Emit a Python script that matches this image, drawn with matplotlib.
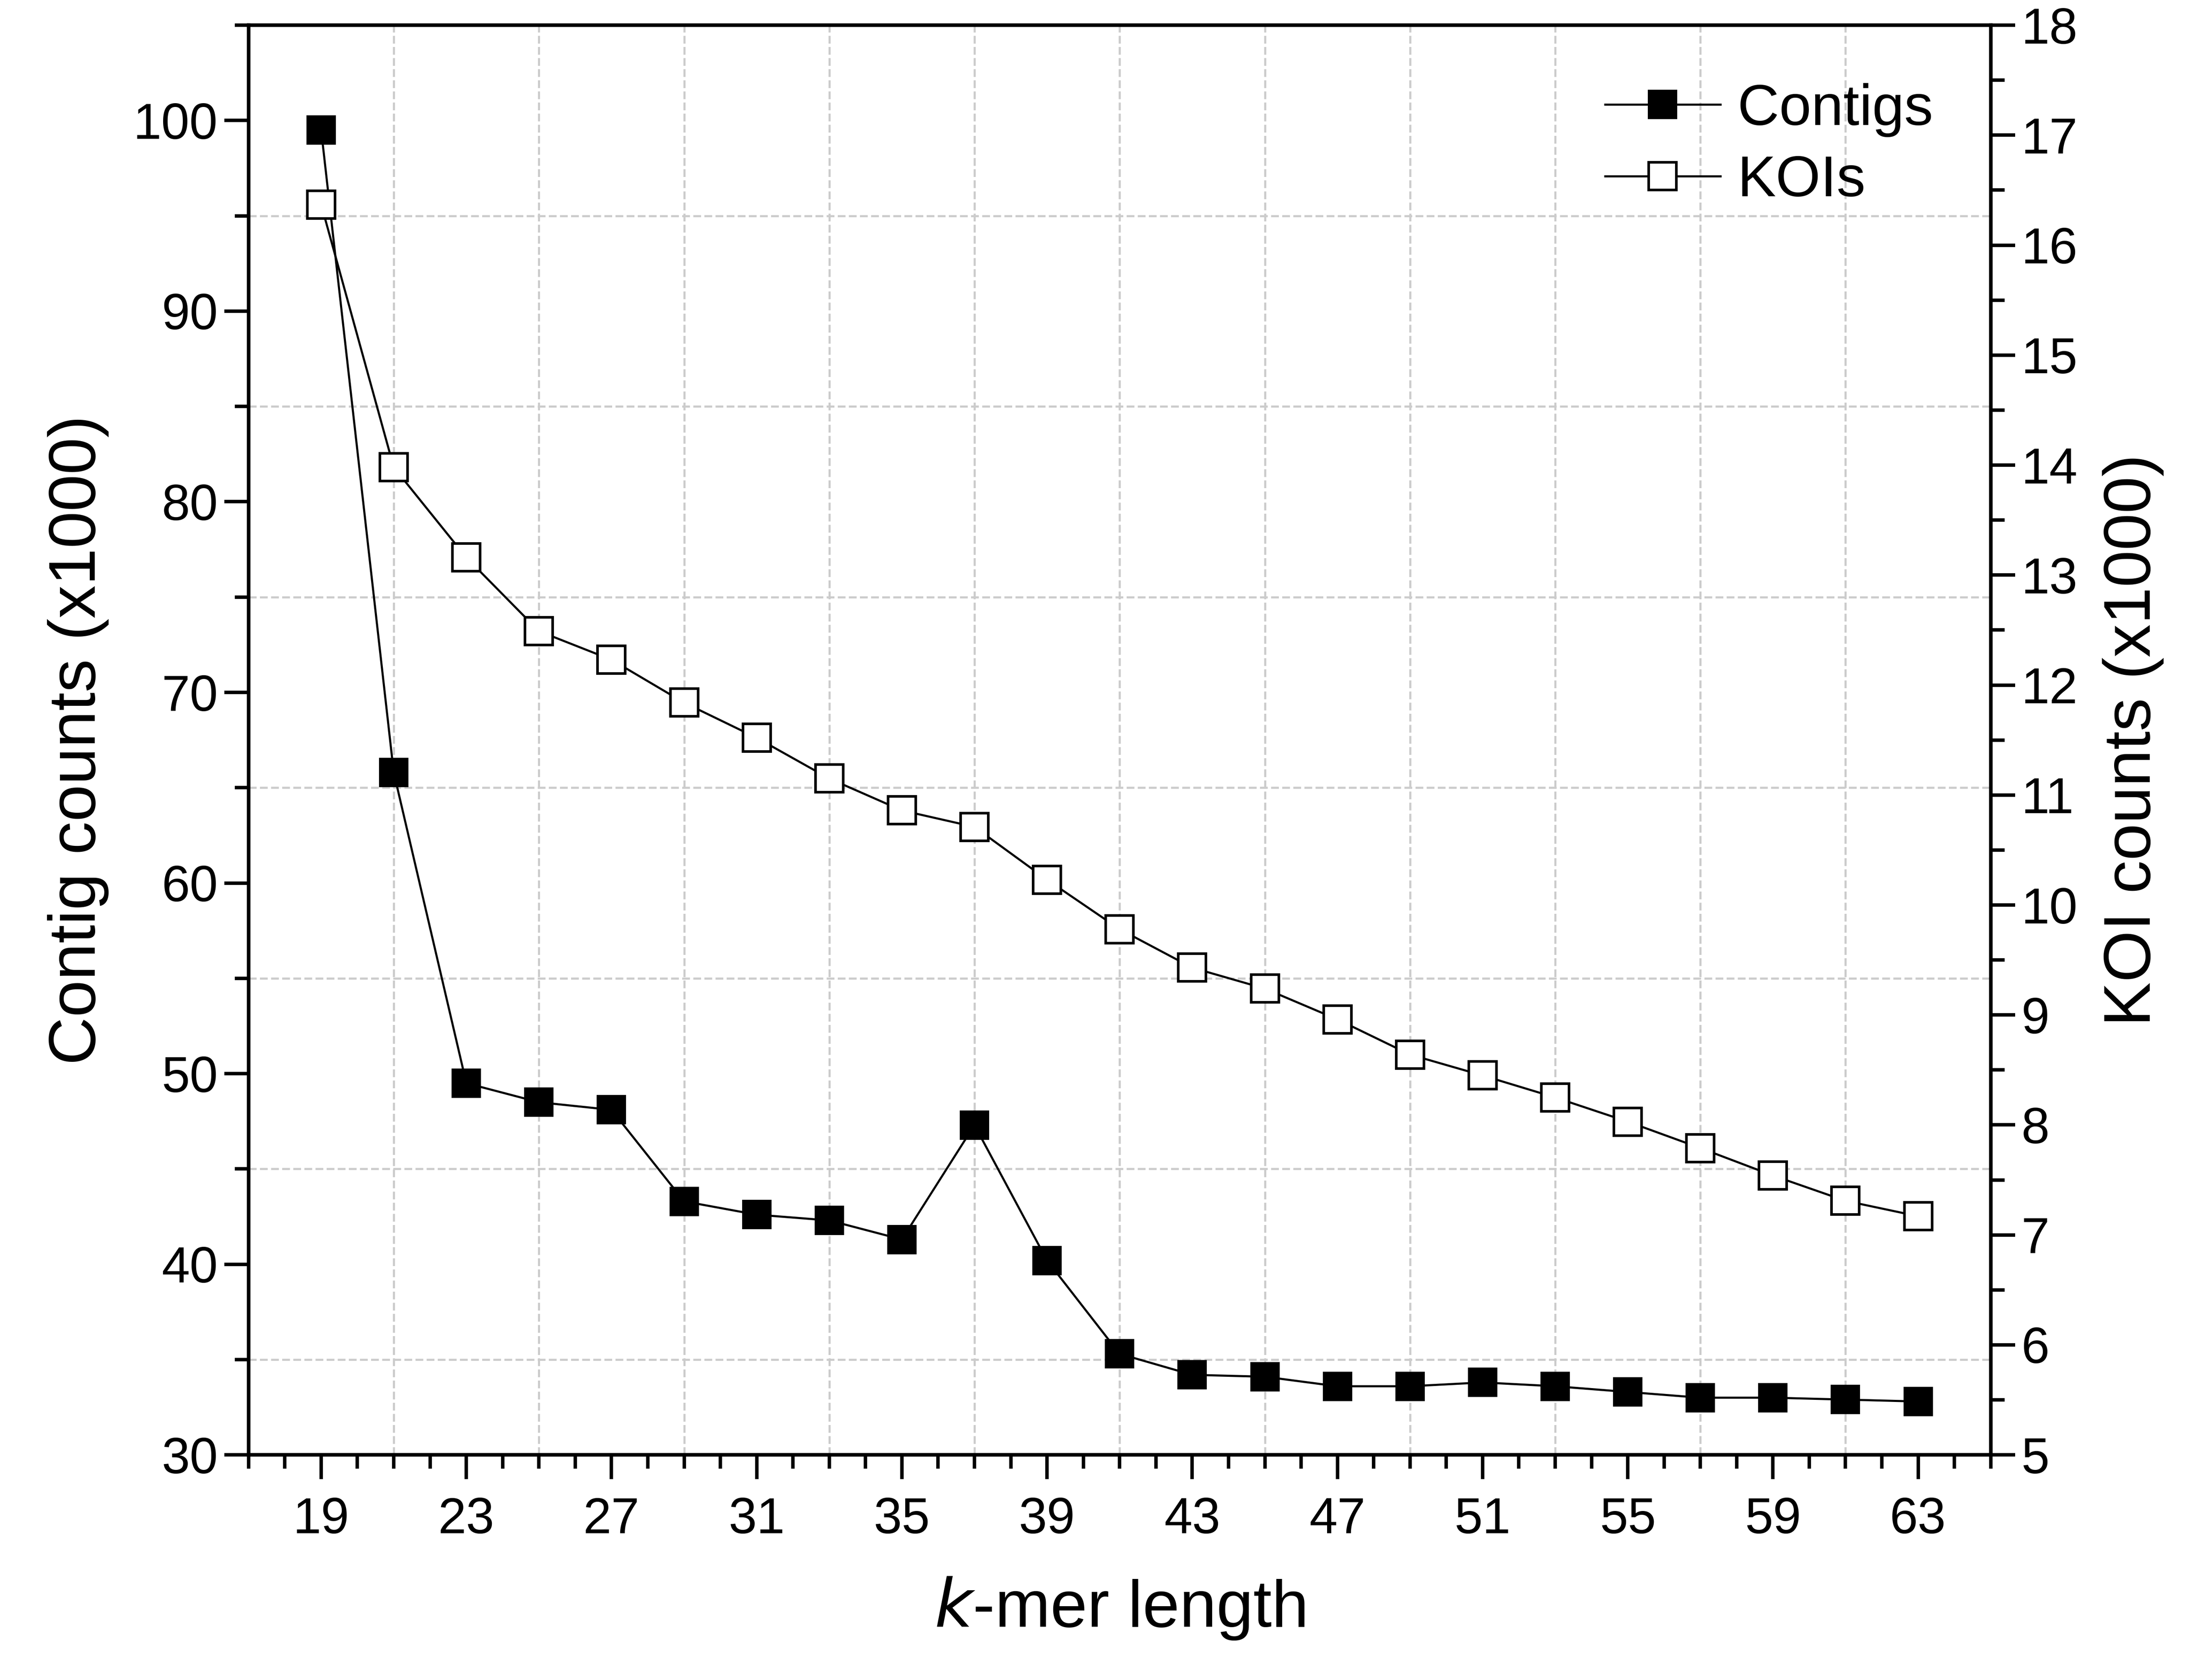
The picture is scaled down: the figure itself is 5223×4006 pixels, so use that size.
import matplotlib
matplotlib.use("Agg")
import matplotlib.pyplot as plt
from matplotlib.ticker import MultipleLocator
from matplotlib.lines import Line2D

plt.rcParams['font.family'] = ['Liberation Sans', 'DejaVu Sans']

# dados
kmer = [19, 21, 23, 25, 27, 29, 31, 33, 35, 37, 39, 41, 43, 45, 47, 49, 51, 53, 55, 57, 59, 61, 63]
contigs = [99.5, 65.8, 49.5, 48.5, 48.1, 43.3, 42.6, 42.3, 41.3, 47.3, 40.2, 35.3, 34.2, 34.1,
           33.6, 33.6, 33.8, 33.6, 33.3, 33.0, 33.0, 32.9, 32.8]
kois = [16.37, 13.98, 13.16, 12.49, 12.23, 11.84, 11.52, 11.15, 10.86, 10.71, 10.23, 9.78, 9.43,
        9.24, 8.96, 8.64, 8.45, 8.25, 8.03, 7.79, 7.54, 7.31, 7.17]
xticks = list(range(19, 64, 4))

fig = plt.figure(figsize=(5223 / 300, 4006 / 300), dpi=300)
ax = fig.add_axes([0.1135, 0.134, 0.7955, 0.851])
ax2 = ax.twinx()

ax.plot(kmer, contigs, '-s', color='black', lw=1.2, ms=16, mfc='black', mec='black', zorder=3)
ax2.plot(kmer, kois, '-s', color='black', lw=1.2, ms=16, mfc='white', mec='black', mew=1.5, zorder=3)

ax.set_xlim(17, 65)
ax.set_ylim(30, 105)
ax2.set_ylim(5, 18)

ax.set_xticks(xticks)
ax.xaxis.set_minor_locator(MultipleLocator(1))
ax.yaxis.set_major_locator(MultipleLocator(10))
ax.yaxis.set_minor_locator(MultipleLocator(5))
ax2.yaxis.set_major_locator(MultipleLocator(1))
ax2.yaxis.set_minor_locator(MultipleLocator(0.5))

# grade tracejada (só nas marcas menores)
for x in range(21, 64, 4):
    ax.axvline(x, color='#cccccc', ls='--', lw=1.2, zorder=0)
for y in range(35, 105, 10):
    ax.axhline(y, color='#cccccc', ls='--', lw=1.2, zorder=0)

for a in (ax, ax2):
    a.tick_params(which='major', length=14, width=2, labelsize=29, direction='out')
    a.tick_params(which='minor', length=8, width=2, direction='out')
    for s in a.spines.values():
        s.set_linewidth(2)
ax.tick_params(axis='x', pad=10)

ax.set_xlabel('$k$-mer length', fontsize=38, labelpad=18)
ax.set_ylabel('Contig counts (x1000)', fontsize=38, labelpad=14)
ax2.set_ylabel('KOI counts (x1000)', fontsize=38, labelpad=14)

handles = [Line2D([], [], color='black', marker='s', ms=16, mfc='black', lw=1.2),
           Line2D([], [], color='black', marker='s', ms=16, mfc='white', mew=1.5, lw=1.2)]
ax.legend(handles, ['Contigs', 'KOIs'], loc='upper right', frameon=False, fontsize=33,
          handlelength=2.0, handletextpad=0.3, borderaxespad=0.6, labelspacing=0.3)

fig.savefig('out.png', dpi=300)
